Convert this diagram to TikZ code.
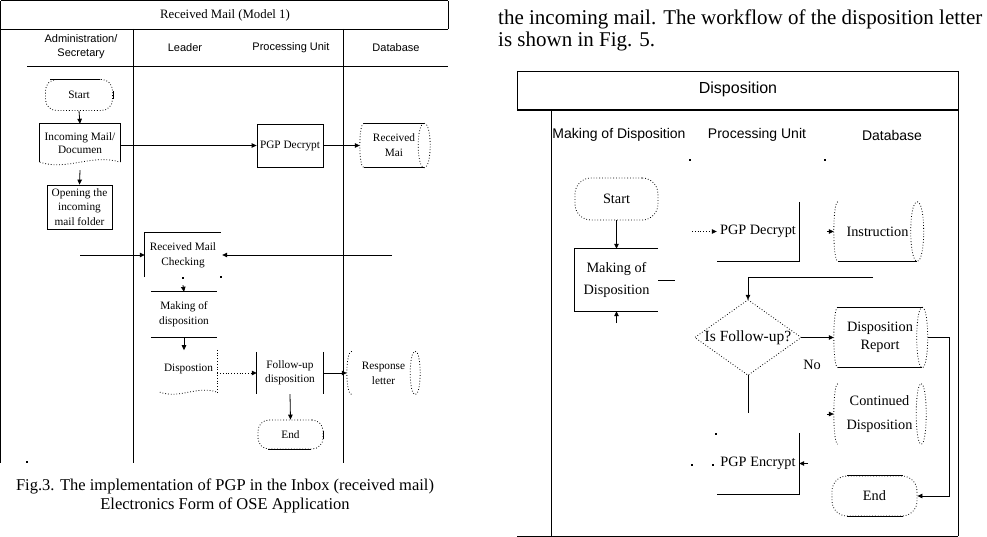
\documentclass[tikz,border=0pt]{standalone}
\usepackage{fontspec}
\setmainfont{Liberation Serif}
\setsansfont{Liberation Sans}
\usetikzlibrary{arrows.meta,calc}
% horizontal "stored data" cylinder outline around a node: name, left bulge, right ellipse radius, top style, bottom style
\newcommand\cylshape[5]{%
 \draw[#4] (#1.north west) -- (#1.north east);
 \draw[#5] (#1.south west) -- (#1.south east);
 \draw[dotl] (#1.north west) .. controls ($(#1.north west)+(-1.33*#2,0)$) and ($(#1.south west)+(-1.33*#2,0)$) .. (#1.south west);
 \draw[dotl] (#1.north east) .. controls ($(#1.north east)+(1.33*#3,0)$) and ($(#1.south east)+(1.33*#3,0)$) .. (#1.south east)
   .. controls ($(#1.south east)+(-1.33*#3,0)$) and ($(#1.north east)+(-1.33*#3,0)$) .. (#1.north east);
}
% wavy bottom of a document shape
\newcommand\docwave[2]{%
 \draw[dotl] (#1.south west) .. controls ($(#1.south west)!0.35!(#1.south east)+(0,#2)$) and ($(#1.south west)!0.65!(#1.south east)+(0,-#2)$) .. (#1.south east);
}
\begin{document}
\begin{tikzpicture}[x=1pt,y=-1pt,
 ln/.style={line width=0.8pt},
 dotl/.style={line width=0.8pt, dash pattern=on 0.8pt off 2pt},
 arr/.style={line width=0.8pt,-{Triangle[length=5pt,width=4.5pt]}},
 ltxt/.style={font=\fontsize{11.3}{13.5}\selectfont, align=center, inner sep=0pt},
 rtxt/.style={font=\fontsize{14.3}{18}\selectfont, align=center, inner sep=0pt},
 lhead/.style={font=\sffamily\fontsize{11}{14}\selectfont, align=center, inner sep=0pt},
 rhead/.style={font=\sffamily\fontsize{14}{16}\selectfont, inner sep=0pt},
 term/.style={draw, dotl, rectangle, rounded corners=11pt},
 speck/.style={fill=black, minimum size=1.2pt, inner sep=0pt, rectangle}]
\useasboundingbox (0,0) rectangle (987,537);
\fill[white] (0,0) rectangle (987,537);

% ================= LEFT DIAGRAM =================
\draw[ln] (0.8,0.8) -- (448,0.8);
\draw[ln] (0.8,0.8) -- (0.8,463);
\draw[ln] (448,0.8) -- (448,29);
\draw[ln] (0.8,29) -- (448,29);
\draw[ln] (27,66) -- (448,66);
\draw[ln] (133,29) -- (133,463);
\draw[ln] (343,29) -- (343,463);
\node[speck] (sp0) at (27,462) {};

\node[font=\fontsize{12.8}{14}\selectfont, inner sep=0pt] (ltitle) at (225,15) {Received Mail (Model 1)};
\node[lhead] (h1) at (81,47) {Administration/\\Secretary};
\node[lhead] (h2) at (185,48) {Leader};
\node[lhead] (h3) at (291,48) {Processing Unit};
\node[lhead] (h4) at (396,48) {Database};

\node[ltxt, term, minimum width=67pt, minimum height=31pt] (startL) at (79,95) {Start};
\draw[ln] ($(startL.north)+(-29,0)$) -- ($(startL.north)+(21,0)$);
\draw[ln] ($(startL.east)+(0,-4)$) -- ($(startL.east)+(0,4)$);

\node[ltxt, minimum width=80pt, minimum height=38pt] (incoming) at (80,143) {Incoming Mail/\\Documen};
\draw[ln] (incoming.south west) -- (incoming.north west) -- (incoming.north east) -- (incoming.south east);
\docwave{incoming}{9}

\node[ltxt, font=\fontsize{11.3}{14.5}\selectfont, draw, ln, minimum width=65pt, minimum height=44pt] (opening) at (79.5,207) {Opening the\\incoming\\mail folder};

\node[ltxt, draw, ln, minimum width=66pt, minimum height=43pt] (pgpdec) at (290,145.5) {PGP Decrypt};

\node[ltxt, font=\fontsize{11.3}{15}\selectfont, minimum width=60pt, minimum height=44pt] (recmail) at (394,145.5) {Received\\Mai};
\cylshape{recmail}{4}{6}{ln}{ln}

\node[ltxt, font=\fontsize{11.3}{15}\selectfont, minimum width=76pt, minimum height=44pt] (checking) at (183,255) {Received Mail\\Checking};
\draw[ln] (checking.south west) -- (checking.north west) -- (checking.north east);
\node[speck] (sp1) at (183,278) {};
\node[speck] (sp2) at (221,277) {};

\node[ltxt, font=\fontsize{11.3}{15}\selectfont, minimum width=66pt, minimum height=45pt] (makingL) at (184,314.5) {Making of\\disposition};
\draw[ln] (makingL.north west) -- (makingL.north east);
\draw[ln] (makingL.south west) -- (makingL.south east);

\node[ltxt, minimum width=57pt, minimum height=42pt, text depth=6pt] (dispostion) at (188.5,371) {Dispostion};
\draw[dotl] (dispostion.north east) -- (dispostion.south east);
\docwave{dispostion}{7}

\node[ltxt, font=\fontsize{11.3}{14.5}\selectfont, minimum width=66pt, minimum height=42pt] (followup) at (290,373) {Follow-up\\disposition};
\draw[ln] (followup.north west) -- (followup.south west);
\draw[ln] (followup.north east) -- (followup.south east);

\node[ltxt, font=\fontsize{11.3}{15}\selectfont, minimum width=63pt, minimum height=43pt] (response) at (383.5,373) {Response\\letter};
\cylshape{response}{5}{5}{draw=none}{draw=none}

\node[ltxt, term, minimum width=65pt, minimum height=29pt] (endL) at (290.5,434.5) {End};
\draw[ln] ($(endL.south)+(-22.5,0)$) -- ($(endL.south)+(20.5,0)$);
\draw[ln] ($(endL.east)+(0,-4)$) -- ($(endL.east)+(0,4)$);

\draw[arr] (startL.south) -- (incoming.north);
\draw[arr] ($(incoming.south)+(0,8)$) -- (opening.north);
\draw[arr] (incoming.east |- pgpdec.west) -- (pgpdec.west);
\draw[arr] (pgpdec.east) -- ($(recmail.west)+(-4,0)$);
\coordinate (chkL) at (80,255);
\coordinate (chkR) at (392,255);
\draw[arr] (chkL) -- (checking.west);
\draw[arr] (chkR) -- ($(checking.east)+(1,0)$);
\draw[arr] ($(checking.south)+(0,8)$) -- (makingL.north);
\draw[arr] (makingL.south) -- ++(0,13);
\draw[arr, dotl] (dispostion.east |- followup.west) -- (followup.west);
\draw[arr] (followup.east) -- ($(response.west)+(-5,0)$);
\draw[arr] (followup.south) -- (endL.north);

\node[font=\fontsize{16.5}{20}\selectfont, inner sep=0pt, anchor=base] (cap1) at (225,490) {Fig.3. The implementation of PGP in the Inbox (received mail)};
\node[font=\fontsize{16.5}{20}\selectfont, inner sep=0pt, anchor=base] (cap2) at (225,509.5) {Electronics Form of OSE Application};

% ================= RIGHT SIDE =================
\node[font=\fontsize{21}{22}\selectfont, inner sep=0pt, anchor=base west] (par1) at (498,25) {the incoming mail. The workflow of the disposition letter};
\node[font=\fontsize{21}{22}\selectfont, inner sep=0pt, anchor=base west] (par2) at (498,47) {is shown in Fig. 5.};

\draw[ln] (517,71) -- (958,71);
\draw[ln] (517,71) -- (517,110);
\draw[line width=1.6pt] (517,110) -- (958,110);
\draw[ln] (958,71) -- (958,536);
\draw[ln] (551,110) -- (551,536);
\draw[ln] (517,536) -- (958,536);
\node[speck] (sp4) at (690,160) {};
\node[speck] (sp5) at (825,160) {};

\node[font=\sffamily\fontsize{16}{18}\selectfont, inner sep=0pt] (dtitle) at (738,89) {Disposition};
\node[rhead] (rh1) at (619,135) {Making of Disposition};
\node[rhead] (rh2) at (757,135) {Processing Unit};
\node[rhead] (rh3) at (892,135) {Database};

\node[rtxt, term, rounded corners=16pt, minimum width=83pt, minimum height=42pt] (startR) at (616.5,199) {Start};

\node[rtxt, font=\fontsize{14.3}{22}\selectfont, minimum width=83pt, minimum height=62pt] (makingR) at (616.5,280) {Making of\\Disposition};
\draw[ln] (makingR.north east) -- (makingR.north west) -- (makingR.south west) -- (makingR.south east);

\node[rtxt, minimum width=82pt, minimum height=59pt] (pgpdecR) at (758,231.5) {PGP Decrypt};
\draw[ln] (pgpdecR.north east) -- (pgpdecR.south east) -- (pgpdecR.south west);

\node[rtxt, minimum width=79pt, minimum height=59pt] (instr) at (877.5,231.5) {Instruction};
\cylshape{instr}{4}{6.5}{draw=none}{ln}

\node[rtxt, font=\fontsize{15.5}{18}\selectfont, minimum width=106pt, minimum height=75pt] (fu) at (748,337.5) {Is Follow-up?};
\draw[dotl] (fu.north) -- (fu.east) -- (fu.south) -- (fu.west) -- cycle;

\node[rtxt, minimum width=84pt, minimum height=60pt] (dispRep) at (880,337.5) {Disposition\\Report};
\cylshape{dispRep}{4}{5.5}{ln}{ln}

\node[rtxt, font=\fontsize{14.3}{24}\selectfont, minimum width=83pt, minimum height=60pt] (contDisp) at (879.5,414) {Continued\\Disposition};
\cylshape{contDisp}{4}{5}{draw=none}{draw=none}

\node[rtxt, minimum width=82pt, minimum height=61pt] (pgpencR) at (758,463.5) {PGP Encrypt};
\draw[ln] (pgpencR.north east) -- (pgpencR.south east) -- (pgpencR.south west);

\node[rtxt, term, rounded corners=15pt, minimum width=85pt, minimum height=40pt] (endR) at (874.5,496) {End};
\draw[ln] ($(endR.north)+(-27.5,0)$) -- ($(endR.north)+(28.5,0)$);
\draw[ln] ($(endR.south)+(-27.5,0)$) -- ($(endR.south)+(28.5,0)$);

\node[rtxt] (no) at (812,365) {No};

\node[speck] (sp6) at (716,434) {};
\node[speck] (sp7) at (692,465) {};
\node[speck] (sp8) at (713,465) {};

\draw[arr] (startR.south) -- (makingR.north);
\coordinate (mku) at (616.5,323);
\draw[arr] (mku) -- (makingR.south);
\draw[ln] (makingR.east) -- ++(17,0);
\coordinate (pdin) at (692,231.5);
\draw[arr, dotl] (pdin) -- (pgpdecR.west);
\draw[arr] ($(instr.west)+(-11,0)$) -- ($(instr.west)+(-4,0)$);
\coordinate (dq) at (873,277);
\draw[arr] (dq) -| (fu.north);
\draw[arr] (fu.east) -- ($(dispRep.west)+(-4,0)$);
\coordinate (rr) at (949,337.5);
\draw[arr] ($(dispRep.east)+(6,0)$) -- (rr) |- (endR.east);
\coordinate (fb) at (748,413);
\draw[ln] (fu.south) -- (fb);
\draw[arr] ($(contDisp.west)+(-11,0)$) -- ($(contDisp.west)+(-4,0)$);
\draw[arr] ($(pgpencR.east)+(9,0)$) -- (pgpencR.east);
\end{tikzpicture}
\end{document}
